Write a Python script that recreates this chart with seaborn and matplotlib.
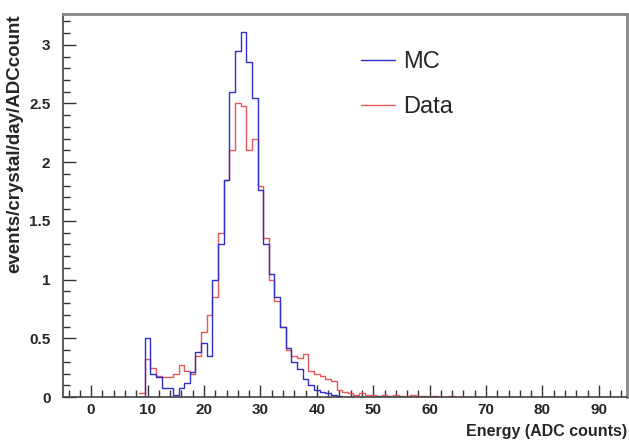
import numpy as np
import pandas as pd
import matplotlib
matplotlib.use("Agg")
import matplotlib.pyplot as plt
from matplotlib.ticker import MultipleLocator, FuncFormatter
from matplotlib.lines import Line2D
import seaborn as sns

# ---- data (bin centers, width 1 ADC count) ----
mc_centers = list(range(9, 46))
mc_values = [0.0, 0.50, 0.20, 0.17, 0.08, 0.08, 0.02, 0.08, 0.12, 0.21,
             0.38, 0.46, 0.35, 1.00, 1.30, 1.85, 2.60, 2.95, 3.11, 2.85,
             2.55, 1.76, 1.30, 1.05, 0.85, 0.60, 0.42, 0.30, 0.24, 0.15,
             0.10, 0.06, 0.04, 0.03, 0.02, 0.01, 0.0]

data_centers = list(range(9, 96))
data_values = [0.03, 0.32, 0.25, 0.18, 0.17, 0.17, 0.20, 0.27, 0.22, 0.20,
               0.35, 0.55, 0.70, 0.85, 1.40, 1.85, 2.10, 2.50, 2.48, 2.10,
               2.20, 1.80, 1.35, 1.00, 0.82, 0.60, 0.40, 0.35, 0.33, 0.37,
               0.22, 0.20, 0.18, 0.15, 0.14, 0.06, 0.04, 0.03, 0.02, 0.03,
               0.02, 0.02, 0.01, 0.02, 0.01, 0.02, 0.01, 0.01, 0.02, 0.01,
               0.01, 0.0, 0.01, 0.0, 0.0, 0.01, 0.0, 0.0, 0.0, 0.0,
               0.0, 0.0, 0.0, 0.0, 0.0, 0.0, 0.0, 0.0, 0.0, 0.0,
               0.0, 0.0, 0.0, 0.0, 0.0, 0.0, 0.0, 0.0, 0.0, 0.0,
               0.0, 0.0, 0.0, 0.0, 0.0, 0.0, 0.0]

series_labels = ["MC", "Data"]
x_label = "Energy (ADC counts)"
y_label = "events/crystal/day/ADCcount"

MC_COLOR = "#3030c8"
DATA_COLOR = "#e85a5a"

sns.set_style("white")
plt.rcParams['font.family'] = ['Liberation Sans', 'DejaVu Sans']

fig = plt.figure(figsize=(6.29, 4.42), dpi=100)
ax = fig.add_axes([0.100, 0.1018, 0.897, 0.866])

mc_df = pd.DataFrame({"x": mc_centers, "w": mc_values})
da_df = pd.DataFrame({"x": data_centers, "w": data_values})

sns.histplot(data=da_df, x="x", weights="w", binwidth=1.0,
             binrange=(data_centers[0] - 0.5, data_centers[-1] + 0.5),
             element="step", fill=False, color=DATA_COLOR, linewidth=1.0, ax=ax)
sns.histplot(data=mc_df, x="x", weights="w", binwidth=1.0,
             binrange=(mc_centers[0] - 0.5, mc_centers[-1] + 0.5),
             element="step", fill=False, color=MC_COLOR, linewidth=1.0, ax=ax)

ax.set_xlim(-5, 95)
ax.set_ylim(0, 3.26)

ax.xaxis.set_major_locator(MultipleLocator(10))
ax.xaxis.set_minor_locator(MultipleLocator(2))
ax.yaxis.set_major_locator(MultipleLocator(0.5))
ax.yaxis.set_minor_locator(MultipleLocator(0.1))
ax.yaxis.set_major_formatter(FuncFormatter(lambda v, p: f"{v:g}"))

ax.tick_params(axis="both", which="both", bottom=True, left=True,
               top=False, right=False, direction="in")
ax.tick_params(axis="both", which="major", length=9, width=1,
               color="#333333", labelsize=11, pad=4)
ax.tick_params(axis="both", which="minor", length=5, width=1,
               color="#333333")
ax.tick_params(axis="y", which="major", pad=9)
for lab in ax.get_xticklabels() + ax.get_yticklabels():
    lab.set_fontweight("bold")

for s in ["left", "bottom"]:
    ax.spines[s].set_color("#444444")
    ax.spines[s].set_linewidth(1.2)
for s in ["top", "right"]:
    ax.spines[s].set_color("#888888")
    ax.spines[s].set_linewidth(2.0)

ax.set_xlabel(x_label, loc="right", fontsize=11.5, fontweight="bold", labelpad=5)
ax.set_ylabel(y_label, loc="top", fontsize=13.5, fontweight="bold", labelpad=4)

h = [Line2D([], [], color=MC_COLOR, lw=1.0), Line2D([], [], color=DATA_COLOR, lw=1.0)]
ax.legend(h, series_labels, loc="upper left", bbox_to_anchor=(0.49, 0.96),
          frameon=False, fontsize=17, handlelength=1.45, handletextpad=0.35,
          labelspacing=1.0)

fig.patch.set_facecolor("white")
fig.savefig("out.png", dpi=100)
